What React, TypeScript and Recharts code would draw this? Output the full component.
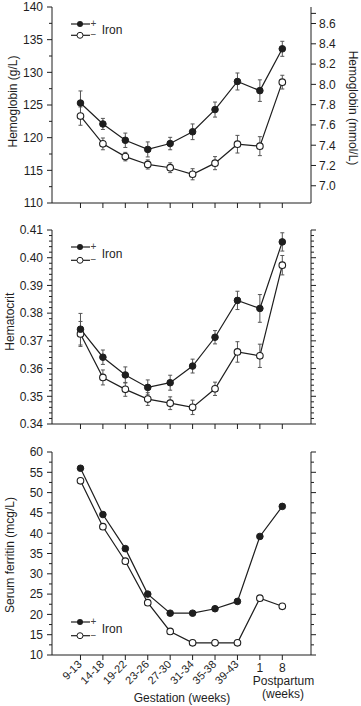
import React from 'react';
import { LineChart, Line, XAxis, YAxis, ErrorBar, Legend } from 'recharts';

// gestation windows (weeks) + postpartum (weeks)
const periods = ['9-13', '14-18', '19-22', '23-26', '27-30', '31-34', '35-38', '39-43', '1', '8'];
const xIndex = [0, 1, 2, 3, 4, 5, 6, 7, 8, 9];

// hemoglobin g/L, with and without iron, +/- SE
const hbPlus = [125.3, 122.1, 119.6, 118.2, 119.1, 120.9, 124.3, 128.6, 127.2, 133.6];
const hbPlusErr = [1.85, 0.85, 1.1, 1.15, 0.95, 1.2, 1.15, 1.3, 1.65, 1.15];
const hbMinus = [123.3, 119.05, 117.1, 115.9, 115.4, 114.4, 116.1, 119.0, 118.7, 128.5];
const hbMinusErr = [1.4, 0.9, 0.65, 0.7, 0.75, 0.85, 1.0, 1.35, 1.45, 1.05];

// hematocrit
const hctPlus = [0.3742, 0.3641, 0.3577, 0.3532, 0.3549, 0.3609, 0.3713, 0.3846, 0.3817, 0.4057];
const hctPlusErr = [0.0057, 0.0026, 0.0029, 0.0027, 0.0027, 0.0025, 0.0024, 0.0033, 0.005, 0.0033];
const hctMinus = [0.3725, 0.3568, 0.3525, 0.349, 0.3475, 0.346, 0.3527, 0.366, 0.3646, 0.3973];
const hctMinusErr = [0.0045, 0.0027, 0.0025, 0.0023, 0.0023, 0.0026, 0.0024, 0.0037, 0.0042, 0.0035];

// serum ferritin mcg/L
const ferPlus = [56.0, 44.6, 36.2, 25.0, 20.3, 20.3, 21.4, 23.2, 39.2, 46.6];
const ferMinus = [52.9, 41.6, 33.1, 22.9, 15.8, 13.0, 13.0, 13.0, 24.0, 22.0];

// axis ticks
const hbMajor = [110, 115, 120, 125, 130, 135, 140];
const mmolMajor = [7.0, 7.2, 7.4, 7.6, 7.8, 8.0, 8.2, 8.4, 8.6, 8.7];
const hctMajor = [0.34, 0.35, 0.36, 0.37, 0.38, 0.39, 0.4, 0.41];
const ferMajor = [10, 15, 20, 25, 30, 35, 40, 45, 50, 55, 60];

const W = 361;
const FONT = 'Arial, "Liberation Sans", Helvetica, sans-serif';
const INK = '#1e1e1e';
const ERR = '#555';
const X_DOMAIN = [-1.27, 10.28];
const TS = 6;
const TM = 3;

function subdivide(majors: number[], parts: number) {
  const out: number[] = [];
  for (let k = 0; k < majors.length - 1; k++) {
    for (let s = 0; s < parts; s++) {
      out.push(+(majors[k] + ((majors[k + 1] - majors[k]) * s) / parts).toFixed(6));
    }
  }
  out.push(majors[majors.length - 1]);
  return out;
}

const hbRows = xIndex.map((i) => ({
  i, plus: hbPlus[i], plusErr: hbPlusErr[i], minus: hbMinus[i], minusErr: hbMinusErr[i],
}));
const hctRows = xIndex.map((i) => ({
  i, plus: hctPlus[i], plusErr: hctPlusErr[i], minus: hctMinus[i], minusErr: hctMinusErr[i],
}));
const ferRows = xIndex.map((i) => ({ i, plus: ferPlus[i], minus: ferMinus[i] }));

// y ticks: long ticks with labels on majors, short ticks in between
function makeYTick(side: 'left' | 'right', majors: number[], digits: number | null, maxLabel = Infinity) {
  return (p: any) => {
    const { x, y, payload } = p;
    const v = payload.value;
    const dir = side === 'right' ? 1 : -1;
    const ax = x - dir * (TS + TM);
    const major = majors.some((m) => Math.abs(m - v) < 1e-6);
    const len = major ? 5 : 3;
    return (
      <g>
        <line x1={ax} x2={ax + dir * len} y1={y} y2={y} stroke={INK} strokeWidth={1} />
        {major && digits !== null && v <= maxLabel + 1e-9 && (
          <text
            x={ax + dir * (side === 'right' ? 8 : 9)}
            y={y}
            dy="0.36em"
            textAnchor={side === 'right' ? 'start' : 'end'}
            fontSize={12}
            fill={INK}
            fontFamily={FONT}
          >
            {v.toFixed(digits)}
          </text>
        )}
      </g>
    );
  };
}

const blankTick = () => <g />;

const FerritinXTick = (p: any) => {
  const { x, y, payload } = p;
  const i = payload.value;
  const axisY = y - 5 - TM;
  if (i >= 8) {
    return (
      <text x={x} y={axisY + 16.5} textAnchor="middle" fontSize={12} fill={INK} fontFamily={FONT}>
        {periods[i]}
      </text>
    );
  }
  const ax = x + 2;
  const ay = axisY + 10;
  return (
    <text x={ax} y={ay} textAnchor="end" transform={`rotate(-45 ${ax} ${ay})`} fontSize={11} fill={INK} fontFamily={FONT}>
      {periods[i]}
    </text>
  );
};

// recharts clones label elements with its own props (angle, position...), so use distinct names
const AxisTitle = ({ tx, ty, rot, text }: any) => (
  <text
    x={tx}
    y={ty}
    transform={`rotate(${rot} ${tx} ${ty})`}
    textAnchor="middle"
    dy="0.36em"
    fontSize={12}
    fill={INK}
    fontFamily={FONT}
  >
    {text}
  </text>
);

const FerritinXTitles = () => (
  <g fontSize={12} fill={INK} fontFamily={FONT} textAnchor="middle">
    <text x={283.5} y={245}>Postpartum</text>
    <text x={283} y={258}>(weeks)</text>
    <text x={182} y={261.5}>Gestation (weeks)</text>
  </g>
);

const IronLegend = ({ gap }: { gap: number }) => (
  <svg width={62} height={gap + 12} style={{ display: 'block', overflow: 'visible' }} fontFamily={FONT}>
    <line x1={2} x2={21} y1={5} y2={5} stroke={INK} strokeWidth={1.2} />
    <circle cx={11} cy={5} r={3} fill={INK} />
    <text x={24.3} y={4.3} dy="0.35em" textAnchor="middle" fontSize={10} fill="#444">+</text>
    <line x1={2} x2={21} y1={5 + gap} y2={5 + gap} stroke={INK} strokeWidth={1.2} />
    <circle cx={11} cy={5 + gap} r={3} fill="#fff" stroke={INK} strokeWidth={1} />
    <text x={24.3} y={4.4 + gap} dy="0.35em" textAnchor="middle" fontSize={10} fill="#444">−</text>
    <text x={32.7} y={5 + gap / 2} dy="0.36em" fontSize={12} fill={INK}>Iron</text>
  </svg>
);

const legendFor = (top: number, gap: number) => (
  <Legend
    layout="vertical"
    align="center"
    verticalAlign="middle"
    content={() => <IronLegend gap={gap} />}
    wrapperStyle={{ position: 'absolute', left: 69, top, width: 62, height: gap + 12 }}
  />
);

const plusDot = { r: 3.3, fill: INK, stroke: INK, strokeWidth: 1 };
const minusDot = { r: 3.3, fill: '#fff', stroke: INK, strokeWidth: 1.1 };

const seriesLines = (withErr: boolean, yAxisId: string) => [
  <Line key="minus" yAxisId={yAxisId} type="linear" dataKey="minus" name="−" stroke={INK} strokeWidth={1.2}
    dot={minusDot} activeDot={false} isAnimationActive={false}>
    {withErr && <ErrorBar dataKey="minusErr" direction="y" width={2} stroke={ERR} strokeWidth={1} />}
  </Line>,
  <Line key="plus" yAxisId={yAxisId} type="linear" dataKey="plus" name="+" stroke={INK} strokeWidth={1.2}
    dot={plusDot} activeDot={false} isAnimationActive={false}>
    {withErr && <ErrorBar dataKey="plusErr" direction="y" width={2} stroke={ERR} strokeWidth={1} />}
  </Line>,
];

const xAxisPlain = (h: number) => (
  <XAxis type="number" dataKey="i" domain={X_DOMAIN} ticks={xIndex} interval={0} height={h}
    tick={blankTick} tickSize={5} tickMargin={TM} stroke={INK} allowDataOverflow />
);

const HemoglobinPanel = () => (
  <LineChart width={W} height={212} data={hbRows} margin={{ top: 7, right: 0, bottom: 0, left: 0 }}>
    {xAxisPlain(9)}
    <YAxis yAxisId="g" domain={[110, 140]} ticks={subdivide(hbMajor, 2)} interval={0} width={52}
      tickLine={false} tickSize={TS} tickMargin={TM} tick={makeYTick('left', hbMajor, 0)} stroke={INK}
      allowDataOverflow label={<AxisTitle tx={13} ty={101.5} rot={-90} text="Hemoglobin (g/L)" />} />
    <YAxis yAxisId="mmol" orientation="right" domain={[6.83, 8.763]} ticks={mmolMajor} interval={0} width={50}
      tickLine={false} tickSize={TS} tickMargin={TM} tick={makeYTick('right', mmolMajor, 1, 8.6)} stroke={INK}
      allowDataOverflow label={<AxisTitle tx={353} ty={108} rot={90} text="Hemoglobin (mmol/L)" />} />
    {legendFor(19, 11.3)}
    {seriesLines(true, 'g')}
  </LineChart>
);

const HematocritPanel = () => (
  <LineChart width={W} height={214} data={hctRows} margin={{ top: 10, right: 0, bottom: 0, left: 0 }}>
    {xAxisPlain(10)}
    <YAxis yAxisId="h" domain={[0.34, 0.41]} ticks={subdivide(hctMajor, 5)} interval={0} width={52}
      tickLine={false} tickSize={TS} tickMargin={TM} tick={makeYTick('left', hctMajor, 2)} stroke={INK}
      allowDataOverflow label={<AxisTitle tx={10} ty={101.7} rot={-90} text="Hematocrit" />} />
    <YAxis yAxisId="hr" orientation="right" domain={[0.34, 0.41]} ticks={subdivide(hctMajor, 5)} interval={0} width={50}
      tickLine={false} tickSize={TS} tickMargin={TM} tick={makeYTick('right', hctMajor, null)} stroke={INK}
      allowDataOverflow />
    {legendFor(21.7, 13.3)}
    {seriesLines(true, 'h')}
  </LineChart>
);

const FerritinPanel = () => (
  <LineChart width={W} height={266} data={ferRows} margin={{ top: 12, right: 0, bottom: 0, left: 0 }}>
    <XAxis type="number" dataKey="i" domain={X_DOMAIN} ticks={xIndex} interval={0} height={51}
      tick={<FerritinXTick />} tickSize={5} tickMargin={TM} stroke={INK} allowDataOverflow
      label={<FerritinXTitles />} />
    <YAxis yAxisId="f" domain={[10, 60]} ticks={subdivide(ferMajor, 2)} interval={0} width={52}
      tickLine={false} tickSize={TS} tickMargin={TM} tick={makeYTick('left', ferMajor, 0)} stroke={INK}
      allowDataOverflow label={<AxisTitle tx={10} ty={115} rot={-90} text="Serum ferritin (mcg/L)" />} />
    <YAxis yAxisId="fr" orientation="right" domain={[10, 60]} ticks={subdivide(ferMajor, 2)} interval={0} width={50}
      tickLine={false} tickSize={TS} tickMargin={TM} tick={makeYTick('right', ferMajor, null)} stroke={INK}
      allowDataOverflow />
    {legendFor(177.3, 13.7)}
    {seriesLines(false, 'f')}
  </LineChart>
);

export default function App() {
  return (
    <div style={{ position: 'absolute', left: 0, top: 0, width: W, height: 706, background: '#fff', fontFamily: FONT }}>
      <div style={{ position: 'absolute', left: 0, top: 0 }}>
        <HemoglobinPanel />
      </div>
      <div style={{ position: 'absolute', left: 0, top: 220 }}>
        <HematocritPanel />
      </div>
      <div style={{ position: 'absolute', left: 0, top: 440 }}>
        <FerritinPanel />
      </div>
    </div>
  );
}
